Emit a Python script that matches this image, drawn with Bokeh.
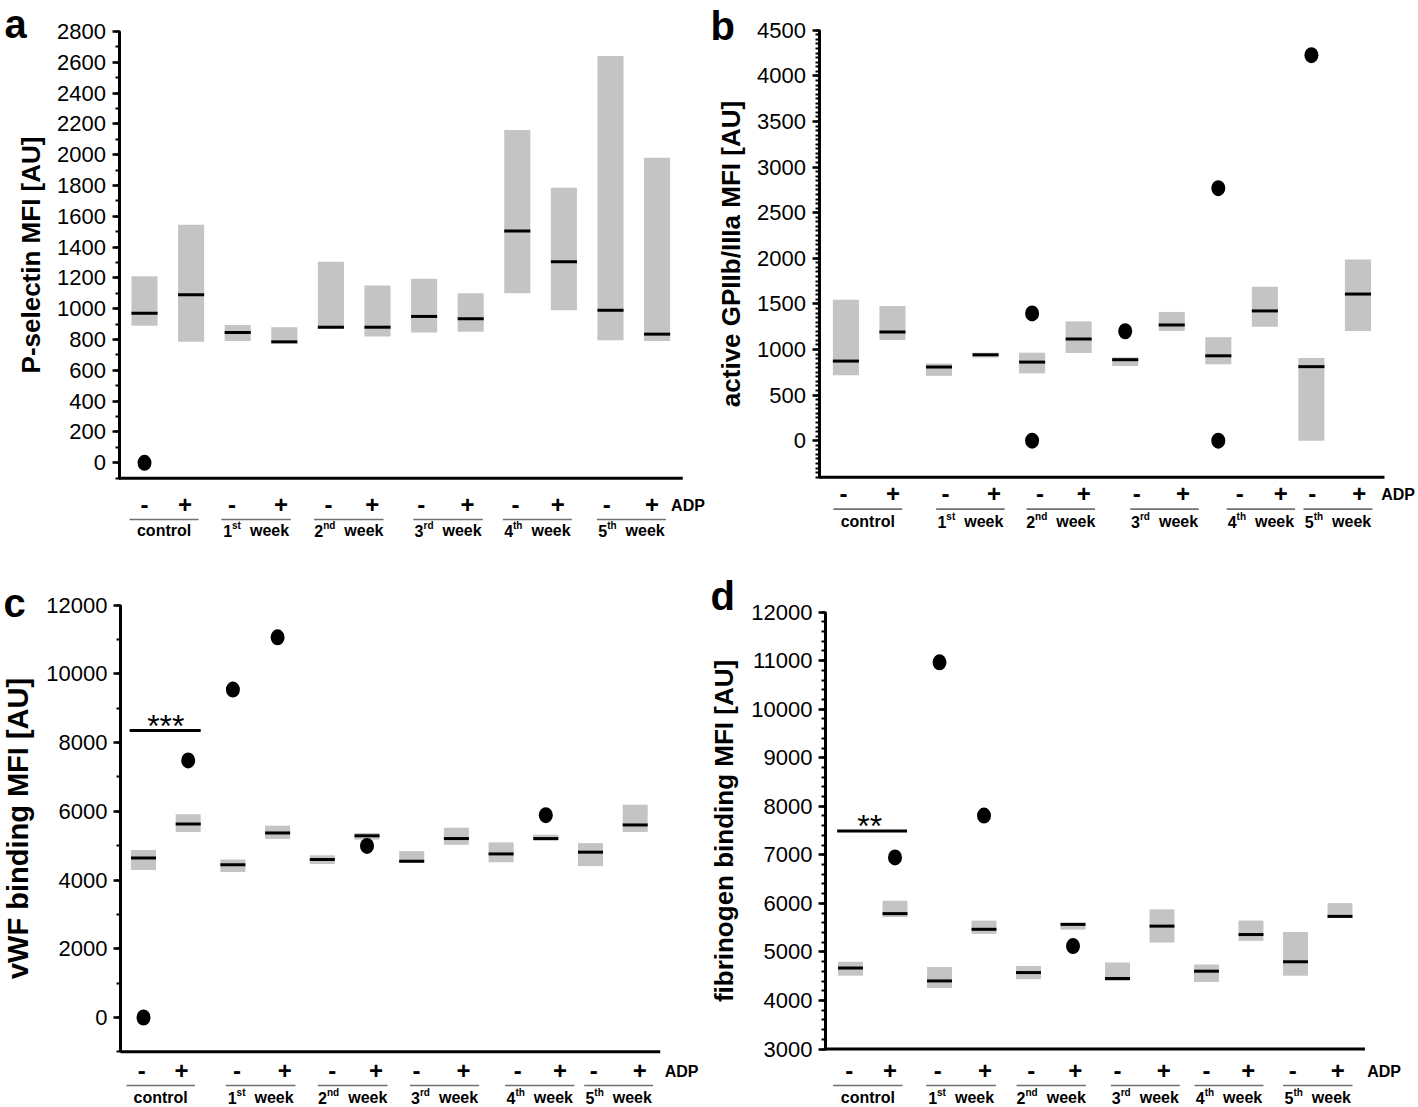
import numpy as np
from bokeh.plotting import figure
from bokeh.models import Range1d, SingleIntervalTicker
from bokeh.layouts import row, column
from bokeh.embed import file_html
from bokeh.resources import INLINE
from bokeh.core.properties import value

# ---------------- data ----------------
groups = ["control", "1st week", "2nd week", "3rd week", "4th week", "5th week"]
adp_signs = ["-", "+"]

# panel a: P-selectin
a_low = [890, 785, 790, 775, 870, 820, 845, 850, 1100, 990, 795, 790]
a_high = [1210, 1545, 895, 880, 1305, 1150, 1195, 1100, 2160, 1785, 2640, 1980]
a_med = [970, 1090, 845, 785, 880, 880, 950, 935, 1505, 1305, 990, 835]
a_out_idx = [0]
a_out_val = [0]

# panel b: active GPIIb/IIIa
b_low = [719, 1104, 711, 912, 738, 962, 819, 1204, 838, 1250, 0, 1204]
b_high = [1546, 1477, 846, 965, 965, 1308, 915, 1412, 1135, 1688, 908, 1988]
b_med = [873, 1192, 808, 942, 862, 1115, 888, 1269, 931, 1423, 812, 1608]
b_out_idx = [4, 4, 6, 8, 8, 10]
b_out_val = [1396, 0, 1200, 2769, 0, 4227]

# panel c: vWF binding
c_low = [4294, 5401, 4234, 5198, 4467, 5178, 4497, 5025, 4518, 5147, 4406, 5401]
c_high = [4873, 5919, 4599, 5584, 4721, 5371, 4843, 5523, 5096, 5320, 5076, 6193]
c_med = [4640, 5635, 4447, 5371, 4599, 5289, 4548, 5208, 4761, 5208, 4812, 5604]
c_out_idx = [0, 1, 2, 3, 5, 9]
c_out_val = [0, 7482, 9543, 11066, 4995, 5888]
c_sig = {"text": "***", "x0": -0.31, "x1": 1.28, "y": 8355, "tx": 0.5}

# panel d: fibrinogen binding
d_low = [4510, 5717, 4258, 5372, 4438, 5459, 4402, 5193, 4380, 5229, 4510, 5696]
d_high = [4797, 6055, 4689, 5646, 4711, 5602, 4783, 5876, 4740, 5646, 5408, 6005]
d_med = [4668, 5789, 4402, 5466, 4574, 5567, 4452, 5531, 4603, 5358, 4797, 5732]
d_out_idx = [1, 2, 3, 5]
d_out_val = [6947, 10965, 7809, 5121]
d_sig = {"text": "**", "x0": -0.30, "x1": 1.27, "y": 7493, "tx": 0.43}

FONT = "'Liberation Sans', Arial, sans-serif"
BAR = "#c4c4c4"

panels = [
    dict(letter="a", ylabel="P-selectin MFI [AU]", low=a_low, high=a_high, med=a_med,
         oi=a_out_idx, ov=a_out_val, sig=None,
         fig=(0, 0, 710, 553), yref=((2800, 30.9), (0, 462.3)), xref=(144.0, 46.6), axis_px=118.5,
         bounds=(-100, 2800), interval=200, minor=2, lab_size="26px",
         rows=(504, 519, 530), letter_pos=(4, 23.5),
         minus=[0, 1.88, 3.95, 5.94, 7.96, 9.92], plus=[0.87, 2.93, 4.89, 6.93, 8.87, 10.89],
         ul=[(-0.32, 1.16), (1.65, 3.14), (3.64, 5.13), (5.77, 7.26), (7.69, 9.17), (9.71, 11.19)],
         adp=11.3, xend=11.55),
    dict(letter="b", ylabel="active GPIIb/IIIa MFI [AU]", low=b_low, high=b_high, med=b_med,
         oi=b_out_idx, ov=b_out_val, sig=None,
         fig=(710, 0, 707, 553), yref=((4500, 29.8), (0, 440.2)), xref=(845.4, 46.55), axis_px=818.5,
         bounds=(-400, 4500), interval=500, minor=10, lab_size="26px",
         rows=(493, 508.6, 521), letter_pos=(710, 25.5),
         minus=[-0.05, 2.14, 4.17, 6.25, 8.46, 10.02], plus=[1.01, 3.18, 5.11, 7.24, 9.34, 11.03],
         ul=[(-0.27, 1.21), (1.94, 3.41), (3.88, 5.35), (6.11, 7.58), (8.18, 9.65), (9.83, 11.31)],
         adp=11.5, xend=11.57),
    dict(letter="c", ylabel="vWF binding MFI [AU]", low=c_low, high=c_high, med=c_med,
         oi=c_out_idx, ov=c_out_val, sig=c_sig,
         fig=(0, 553, 710, 553), yref=((12000, 604.7), (0, 1017.0)), xref=(143.0, 44.7), axis_px=120,
         bounds=(-1000, 12000), interval=2000, minor=2, lab_size="29px",
         rows=(1070, 1085, 1097), letter_pos=(3, 602),
         minus=[-0.04, 2.09, 4.22, 6.11, 8.37, 10.07], plus=[0.85, 3.16, 5.2, 7.16, 9.32, 11.1],
         ul=[(-0.38, 1.15), (1.84, 3.4), (3.9, 5.46), (5.96, 7.51), (8.09, 9.64), (9.86, 11.4)],
         adp=11.66, xend=11.56),
    dict(letter="d", ylabel="fibrinogen binding MFI [AU]", low=d_low, high=d_high, med=d_med,
         oi=d_out_idx, ov=d_out_val, sig=d_sig,
         fig=(710, 553, 707, 553), yref=((12000, 611.6), (3000, 1048.5)), xref=(850.0, 44.5), axis_px=825,
         bounds=(3000, 12000), interval=1000, minor=5, lab_size="26px",
         rows=(1070, 1085, 1097), letter_pos=(710, 595),
         minus=[-0.03, 1.96, 4.06, 6.0, 8.0, 9.94], plus=[0.89, 3.02, 5.05, 7.04, 8.94, 10.95],
         ul=[(-0.39, 1.17), (1.7, 3.27), (3.73, 5.29), (5.85, 7.4), (7.73, 9.28), (9.72, 11.28)],
         adp=11.61, xend=11.56),
]

SUFFIX_W = {"st": 8.9, "nd": 12.2, "rd": 10.0, "th": 9.4}


def build(s):
    fl, ft, W, H = s["fig"]
    (v1, y1), (v2, y2) = s["yref"]
    k = (v2 - v1) / (y2 - y1)

    def vy(py):
        return v1 + (py - y1) * k

    c0, step = s["xref"]

    def vx(px):
        return (px - c0) / step

    x_axis = vx(s["axis_px"])
    p = figure(width=W, height=H, x_range=Range1d(vx(fl), vx(fl + W)),
               y_range=Range1d(vy(ft + H), vy(ft)),
               x_axis_location=None, y_axis_location="left",
               toolbar_location=None, output_backend="svg",
               min_border_left=0, min_border_right=0, min_border_top=0, min_border_bottom=0)
    p.grid.visible = False
    p.outline_line_color = None
    p.background_fill_color = "white"
    p.border_fill_color = "white"

    ax = p.yaxis[0]
    ax.fixed_location = x_axis
    ax.ticker = SingleIntervalTicker(interval=s["interval"], num_minor_ticks=s["minor"])
    ax.bounds = s["bounds"]
    ax.axis_line_width = 3
    ax.major_tick_line_width = 2.5
    ax.major_tick_out = 7
    ax.major_tick_in = 0
    ax.minor_tick_line_width = 2
    ax.minor_tick_out = 4
    ax.minor_tick_in = 1
    ax.major_label_text_font = FONT
    ax.major_label_text_font_size = "22px"
    ax.major_label_text_color = "black"
    ax.major_label_standoff = 6
    ax.axis_label = s["ylabel"]
    ax.axis_label_text_font = FONT
    ax.axis_label_text_font_style = "bold"
    ax.axis_label_text_font_size = s["lab_size"]
    ax.axis_label_text_color = "black"
    ax.axis_label_standoff = 9

    xs = np.arange(len(s["low"]))
    bw = 0.56
    p.vbar(x=xs, bottom=s["low"], top=s["high"], width=bw, fill_color=BAR, line_color=None)
    p.segment(x0=xs - bw / 2, x1=xs + bw / 2, y0=s["med"], y1=s["med"],
              line_width=3, line_color="black")
    p.ellipse(x=s["oi"], y=s["ov"], width=14, height=16, width_units="screen",
              height_units="screen", fill_color="black", line_color=None)

    # x axis line
    lo = s["bounds"][0]
    p.segment(x0=[x_axis], x1=[s["xend"]], y0=[lo], y1=[lo], line_width=3, line_color="black")

    pm_y, ul_y, gl_y = s["rows"]
    # - / +
    p.text(x=s["minus"] + s["plus"], y=[vy(pm_y)] * 12,
           text=[adp_signs[0]] * 6 + [adp_signs[1]] * 6,
           text_font=value(FONT), text_font_style="bold", text_font_size="24px",
           text_align="center", text_baseline="middle", text_color="black")
    p.text(x=[s["adp"]], y=[vy(pm_y + 1)], text=["ADP"], text_font=value(FONT),
           text_font_style="bold", text_font_size="16px", text_align="left",
           text_baseline="middle", text_color="black")
    # underlines
    p.segment(x0=[u[0] for u in s["ul"]], x1=[u[1] for u in s["ul"]],
              y0=[vy(ul_y)] * 6, y1=[vy(ul_y)] * 6, line_width=1.6, line_color="#707070")
    # group labels
    base = vy(gl_y)
    sup_base = vy(gl_y - 5)
    main_x, main_t, sup_x, sup_t = [], [], [], []
    ctrl_x = []
    for g, (u0, u1) in zip(groups, s["ul"]):
        cx = (u0 + u1) / 2
        if g == "control":
            ctrl_x.append(cx)
            continue
        num, suf = g[0], g[1:3]
        sw = SUFFIX_W[suf]
        total = 8.9 + sw + 9 + 39.1
        left = cx - total / 2 / step
        main_x.append(left)
        main_t.append(num)
        sup_x.append(left + 8.9 / step)
        sup_t.append(suf)
        main_x.append(left + (8.9 + sw + 9) / step)
        main_t.append("week")
    p.text(x=ctrl_x, y=[base], text=["control"], text_font=value(FONT),
           text_font_style="bold", text_font_size="16px", text_align="center",
           text_baseline="middle", text_color="black")
    p.text(x=main_x, y=[base] * len(main_x), text=main_t, text_font=value(FONT),
           text_font_style="bold", text_font_size="16px", text_align="left",
           text_baseline="middle", text_color="black")
    p.text(x=sup_x, y=[sup_base] * len(sup_x), text=sup_t, text_font=value(FONT),
           text_font_style="bold", text_font_size="10px", text_align="left",
           text_baseline="middle", text_color="black")

    sig = s["sig"]
    if sig:
        p.segment(x0=[sig["x0"]], x1=[sig["x1"]], y0=[sig["y"]], y1=[sig["y"]],
                  line_width=3, line_color="black")
        line_px = y1 + (sig["y"] - v1) / k
        p.text(x=[sig["tx"]], y=[vy(line_px - 4.5)], text=[sig["text"]],
               text_font=value(FONT), text_font_size="32px", text_align="center",
               text_baseline="middle", text_color="black")

    lx, ly = s["letter_pos"]
    p.text(x=[vx(lx)], y=[vy(ly)], text=[s["letter"]], text_font=value(FONT),
           text_font_style="bold", text_font_size="40px", text_align="left",
           text_baseline="middle", text_color="black")
    return p


figs = [build(s) for s in panels]
layout = column(row(figs[0], figs[1]), row(figs[2], figs[3]))
open("out.html", "w").write(file_html(layout, INLINE))
